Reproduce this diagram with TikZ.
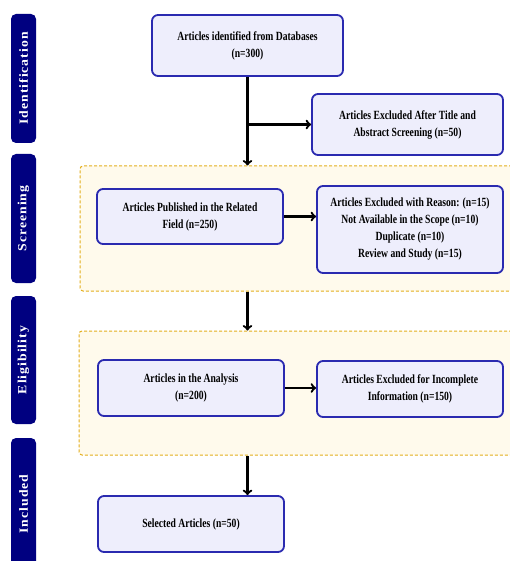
\documentclass[tikz,border=0pt]{standalone}
\usepackage{fontspec}
\setmainfont{Liberation Serif}[FakeStretch=0.77]
\newfontfamily\sidefont{Liberation Serif}[LetterSpace=8,FakeStretch=1.1]
\usetikzlibrary{arrows}

\definecolor{boxfill}{HTML}{EEEEFC}
\definecolor{boxline}{HTML}{2A2AB0}
\definecolor{sidebar}{HTML}{000080}
\definecolor{zonefill}{HTML}{FFFAEC}
\definecolor{zoneline}{HTML}{E3AE1C}

\begin{document}
\begin{tikzpicture}[x=1pt,y=-1pt]

\tikzstyle{every node}=[font=\bfseries\fontsize{12.5}{17}\selectfont]
\tikzstyle{stepbox}=[draw=boxline,fill=boxfill,line width=1.8pt,rounded corners=6pt,align=center,inner sep=0pt]
\tikzstyle{phase}=[fill=sidebar,rounded corners=5pt,minimum width=25pt,inner sep=0pt]
\tikzstyle{phasetext}=[text=white,rotate=90,font=\sidefont\bfseries\fontsize{12.5}{13}\selectfont]
\tikzstyle{zone}=[draw=zoneline,fill=zonefill,dash pattern=on 3pt off 2pt,line width=1pt,rounded corners=3pt,inner sep=0pt]
\tikzstyle{every path}=[line width=2.3pt,->]

\useasboundingbox (0,0) rectangle (510,561);

% phases on the left
\node[phase,minimum height=129pt] (identbar) at (23.5,78.5) {};
\node[phase,minimum height=129pt] (screenbar) at (23.5,218.5) {};
\node[phase,minimum height=128pt] (eligbar) at (23.5,360) {};
\node[phase,minimum height=132pt] (inclbar) at (23.5,504) {};
\node[phasetext] (identname) at (identbar) {Identification};
\node[phasetext] (screenname) at (screenbar) {Screening};
\node[phasetext] (eligname) at (eligbar) {Eligibility};
\node[phasetext] (inclname) at (inclbar) {Included};

% shaded zones
\node[zone,minimum width=440pt,minimum height=125pt] (screenzone) at (300,228.5) {};
\node[zone,minimum width=441pt,minimum height=124pt] (eligzone) at (299.5,393) {};

% boxes
\node[stepbox,minimum width=191pt,minimum height=61pt] (found) at (247.5,45.5)
  {Articles identified from Databases\\(n=300)};
\node[stepbox,minimum width=191pt,minimum height=61pt] (dropped) at (407.5,124.5)
  {Articles Excluded After Title and\\Abstract Screening (n=50)};
\node[stepbox,minimum width=186pt,minimum height=55pt] (related) at (190,216.5)
  {Articles Published in the Related\\Field (n=250)};
\node[stepbox,minimum width=186pt,minimum height=87pt] (reasons) at (410,229.5)
  {Articles Excluded with Reason: (n=15)\\Not Available in the Scope (n=10)\\Duplicate (n=10)\\Review and Study (n=15)};
\node[stepbox,minimum width=186pt,minimum height=56pt] (analysis) at (191,388)
  {Articles in the Analysis\\(n=200)};
\node[stepbox,minimum width=186pt,minimum height=56pt] (incomplete) at (410,389)
  {Articles Excluded for Incomplete\\Information (n=150)};
\node[stepbox,minimum width=186pt,minimum height=56pt] (selected) at (191,524)
  {Selected Articles (n=50)};

% connectors
\draw (found.south) -- (found.south |- screenzone.north);
\draw (found.south |- dropped.west) -- (dropped.west);
\draw (related.east) -- (related.east -| reasons.west);
\draw (found.south |- screenzone.south) -- (found.south |- eligzone.north);
\draw (analysis.east) -- (analysis.east -| incomplete.west);
\draw (found.south |- eligzone.south) -- (found.south |- selected.north);

\end{tikzpicture}
\end{document}
